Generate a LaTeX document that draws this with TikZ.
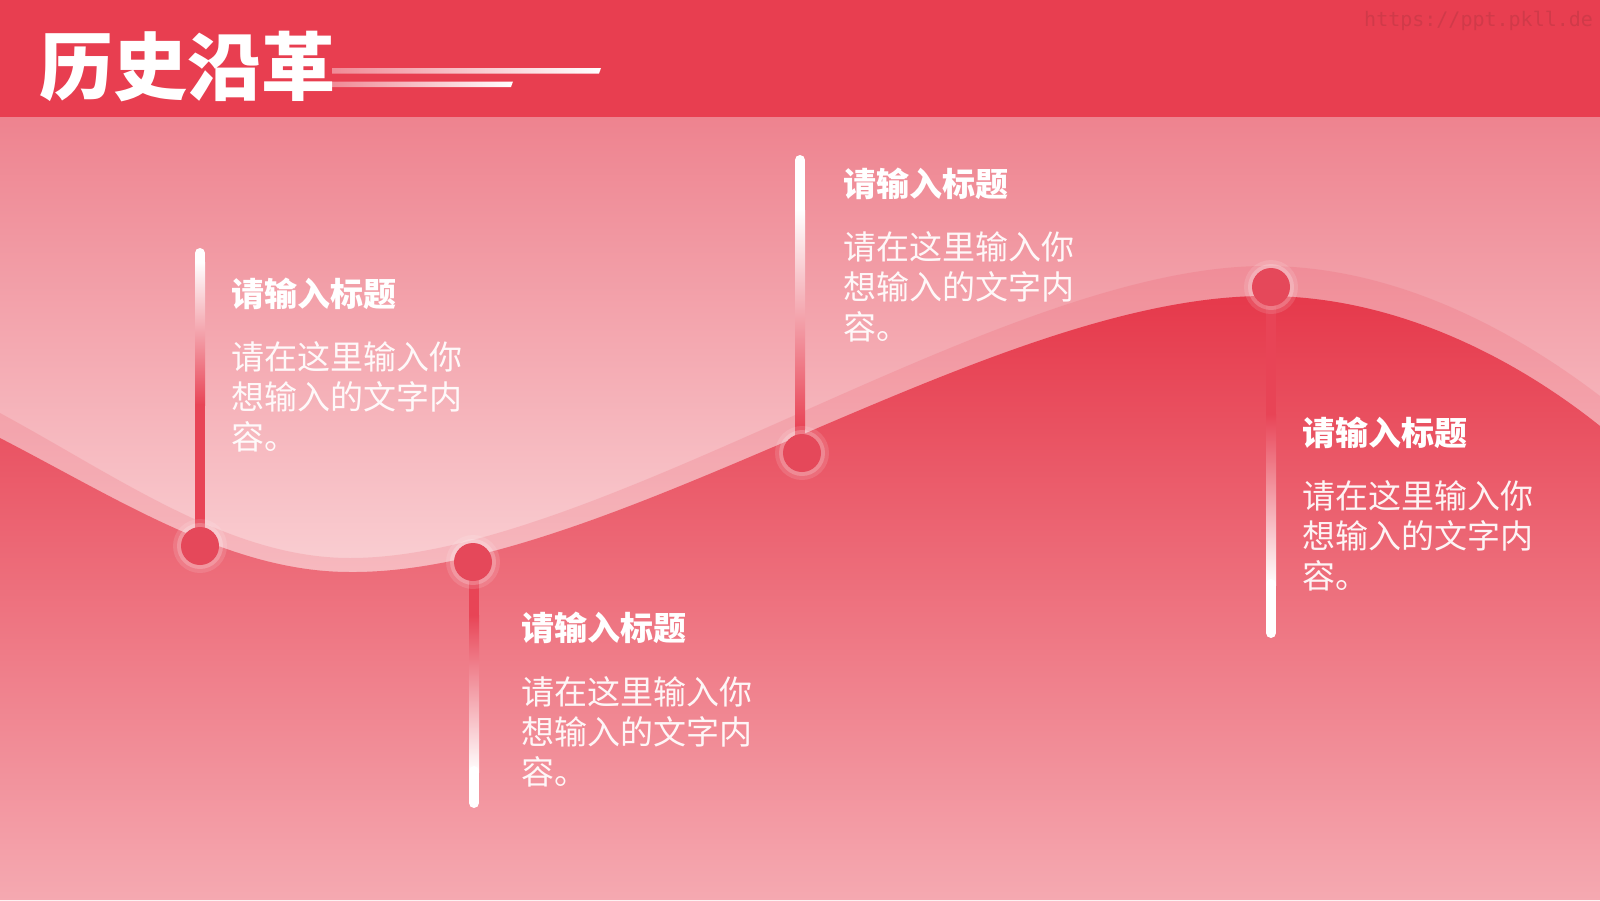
\documentclass[tikz,border=0pt]{standalone}
\usepackage{fontspec}
\newfontfamily\cjk{Noto Sans CJK SC}
\newfontfamily\wmfont{DejaVu Sans Mono}
\definecolor{headred}{HTML}{E83E50}
\definecolor{bgtop}{HTML}{EE838F}
\definecolor{bgbot}{HTML}{FAD0D4}
\definecolor{redtop}{HTML}{E6394B}
\definecolor{redbot}{HTML}{F5A9B1}
\definecolor{stemred}{HTML}{E84456}
\definecolor{dotred}{HTML}{E5485A}
\definecolor{wm}{HTML}{D03A49}
\definecolor{linepink}{HTML}{F08A96}
\tikzset{
  dotcore/.style={circle, fill=dotred, minimum size=38pt, inner sep=0pt},
  ttl/.style={anchor=west, inner sep=0pt, text=white, font=\cjk\bfseries\fontsize{33}{38}\selectfont},
  bodytxt/.style={anchor=north west, inner sep=0pt, align=left, text=white, text opacity=0.93, font=\cjk\fontsize{33}{40}\selectfont},
  glowA/.style={fill=white, opacity=0.12},
  glowB/.style={fill=white, opacity=0.2},
}
\begin{document}
\begin{tikzpicture}[x=1pt,y=-1pt]
\useasboundingbox (0,0) rectangle (1600,900);
% background
\fill[bgbot] (0,560) rectangle (1600,900);
\shade[top color=bgtop, bottom color=bgbot] (0,117) rectangle (1600,580);
% translucent band (second wave)
\fill[headred, opacity=0.15] (0,413) .. controls (120,478) and (230,558) .. (350,558) .. controls (600,558) and (1000,266) .. (1265,266) .. controls (1400,266) and (1520,335) .. (1600,396) -- (1600,900) -- (0,900) -- cycle;
% red wave
\shade[top color=redtop, bottom color=redbot] (0,438) .. controls (120,500) and (230,572) .. (350,572) .. controls (610,574) and (990,296) .. (1265,296) .. controls (1400,296) and (1520,362) .. (1600,426) -- (1600,900) -- (0,900) -- cycle;
% header
\fill[headred] (0,0) rectangle (1600,117);
\shade[left color=linepink, right color=white] (332,68) -- (601,68) -- (599,73.5) -- (332,73.5) -- cycle;
\shade[left color=linepink, right color=white] (332,81.5) -- (513,81.5) -- (511,87) -- (332,87) -- cycle;
\node[anchor=west, inner sep=0pt, text=white, font=\cjk\bfseries\fontsize{74}{80}\selectfont] (title) at (39,67) {历史沿革};
\node[anchor=west, inner sep=0pt, text=wm, font=\wmfont\fontsize{20}{20}\selectfont] (wmk) at (1364,21) {https://ppt.pkll.de};
% stem 1 (up from dot 1)
\coordinate (s1) at (200,253);
\draw[line width=10pt, white, line cap=round] (s1) -- (200,262);
\shade[top color=white, bottom color=stemred] (195,262) rectangle (205,405);
\fill[stemred] (195,404) rectangle (205,546);
% stem 3 (up from dot 3)
\coordinate (s3) at (800,160);
\draw[line width=10pt, white, line cap=round] (s3) -- (800,210);
\shade[top color=white, bottom color=stemred] (795,210) rectangle (805,428);
\fill[stemred] (795,427) rectangle (805,453);
% stem 2 (down from dot 2)
\coordinate (s2) at (474,803);
\fill[stemred] (469,562) rectangle (479,616);
\shade[top color=stemred, bottom color=white] (469,615) rectangle (479,772);
\draw[line width=10pt, white, line cap=round] (474,771) -- (s2);
% stem 4 (down from dot 4)
\coordinate (s4) at (1271,633);
\fill[stemred] (1266,287) rectangle (1276,415);
\shade[top color=stemred, bottom color=white] (1266,414) rectangle (1276,585);
\draw[line width=10pt, white, line cap=round] (1271,584) -- (s4);
% dots with glow
\foreach \p in {(200,546),(473,562),(802,453),(1271,287)}{
  \fill[glowA] \p circle (27pt);
  \fill[glowB] \p circle (23pt);
}
\node[dotcore] (d1) at (200,546) {};
\node[dotcore] (d2) at (473,562) {};
\node[dotcore] (d3) at (802,453) {};
\node[dotcore] (d4) at (1271,287) {};
% texts
\node[ttl] (t1) at (231,294) {请输入标题};
\node[bodytxt] (b1) at (231,341) {请在这里输入你\\想输入的文字内\\容。};
\node[ttl] (t2) at (521,628) {请输入标题};
\node[bodytxt] (b2) at (521,676) {请在这里输入你\\想输入的文字内\\容。};
\node[ttl] (t3) at (843,184) {请输入标题};
\node[bodytxt] (b3) at (843,231) {请在这里输入你\\想输入的文字内\\容。};
\node[ttl] (t4) at (1302,433) {请输入标题};
\node[bodytxt] (b4) at (1302,480) {请在这里输入你\\想输入的文字内\\容。};
\end{tikzpicture}
\end{document}
